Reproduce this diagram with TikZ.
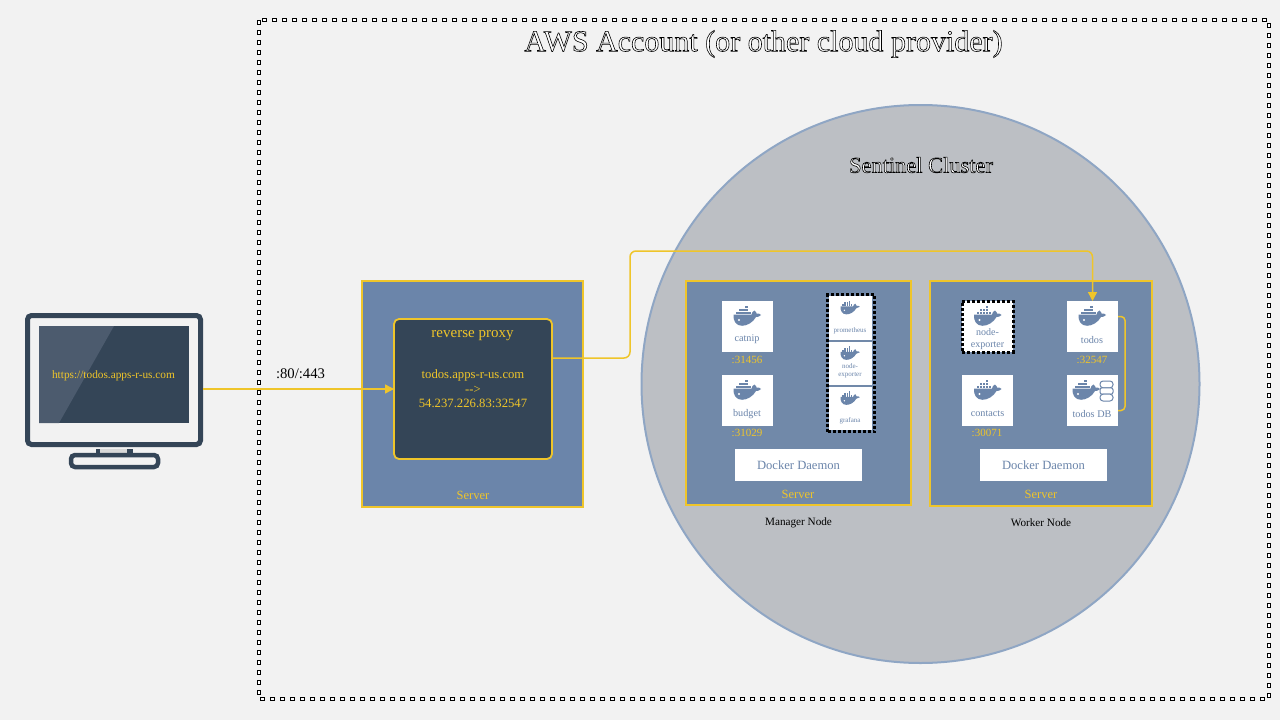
\documentclass[tikz,border=0pt]{standalone}
\usepackage{fontspec}
\setmainfont{Liberation Serif}
\usepackage{xcolor}
\usetikzlibrary{positioning,arrows.meta}

\definecolor{pagebg}{HTML}{F2F2F2}
\definecolor{clusterfill}{HTML}{BCBFC4}
\definecolor{clusterline}{HTML}{8FA6C4}
\definecolor{serverblue}{HTML}{6B85AA}
\definecolor{nodeblue}{HTML}{7189A9}
\definecolor{slate}{HTML}{344557}
\definecolor{glare}{HTML}{4C5B6E}
\definecolor{gold}{HTML}{EFC52A}

\newcommand{\outlined}[1]{\special{pdf:code q 2 Tr 0.6 w 0 0 0 RG 1 1 1 rg}#1\special{pdf:code Q}}

\tikzset{
    whale/.pic={
        \fill[serverblue] (-13.5,-1.5) -- (4.5,-1.5) .. controls (4.5,-3) and (6,-5) .. (7.5,-5.5)
            .. controls (9,-4.5) and (9.5,-3.2) .. (9.5,-2.5) .. controls (11,-2.8) and (13,-2.5) .. (14,-1)
            .. controls (12.5,0.8) and (10.5,1) .. (9,1) .. controls (6,6.5) and (0,9.8) .. (-5,9.8)
            .. controls (-11,9.8) and (-14,5) .. (-13.5,-1.5) -- cycle;
        \fill[white] (-8,4) circle (1.1);
        \foreach \cx/\cy in {-11/-4.4,-8/-4.4,-5/-4.4,-2/-4.4,1/-4.4,-8/-7.2,-5/-7.2,-2/-7.2,-2/-10}
            \fill[serverblue] (\cx,\cy) rectangle ++(2.5,2.4);
    },
    dbstack/.pic={
        \draw[serverblue, fill=white, line width=1pt, rounded corners=3pt] (-6.5,-10) rectangle (6.5,-3.2);
        \draw[serverblue, fill=white, line width=1pt, rounded corners=2pt] (-6.5,-3.2) rectangle (6.5,3.2);
        \draw[serverblue, fill=white, line width=1pt, rounded corners=3pt] (-6.5,3.2) rectangle (6.5,10);
    }
}

\begin{document}
\begin{tikzpicture}[
    x=1pt, y=-1pt,
    serverbox/.style={draw=gold, fill=serverblue, line width=1.5pt, rectangle, inner sep=0pt, outer sep=0pt},
    dockerbox/.style={fill=white, rectangle, minimum width=51pt, minimum height=51pt, inner sep=0pt, outer sep=0pt},
    smallbox/.style={fill=white, rectangle, minimum width=43pt, minimum height=43pt, inner sep=0pt, outer sep=0pt},
    daemon/.style={fill=white, rectangle, minimum width=127pt, minimum height=32pt, inner sep=0pt, outer sep=0pt,
                   text=serverblue, font=\fontsize{12.6}{14}\selectfont},
    boxlabel/.style={text=serverblue, font=\fontsize{10.2}{11.5}\selectfont, align=center, inner sep=0pt},
    tinylabel/.style={text=serverblue, font=\fontsize{7}{8.4}\selectfont, align=center, inner sep=0pt},
    portlabel/.style={text=gold, font=\fontsize{11}{12}\selectfont, inner sep=0pt},
    serverlabel/.style={text=gold, font=\fontsize{12.5}{14}\selectfont, inner sep=0pt},
    nodelabel/.style={text=black, font=\fontsize{11.2}{13}\selectfont, inner sep=0pt},
    dotframe/.style={draw=black, line width=3pt, dash pattern=on 3pt off 2pt, rectangle, inner sep=0pt, outer sep=0pt},
    link/.style={draw=gold, line width=1.5pt}
]
    \useasboundingbox (0,0) rectangle (1280,720);
    \fill[pagebg] (0,0) rectangle (1280,720);

    % Account frame
    \draw[black, line width=4.5pt, dash pattern=on 5pt off 5pt] (259,20) rectangle (1269,699);
    \draw[white, line width=1.6pt, dash pattern=on 2.4pt off 7.6pt, dash phase=-1.3pt] (259,20) rectangle (1269,699);
    \node[font=\fontsize{30}{34}\selectfont, inner sep=0pt] (account) at (763.5,44) {\outlined{AWS Account (or other cloud provider)}};

    % Cluster
    \node[circle, draw=clusterline, fill=clusterfill, line width=2pt, minimum size=558pt, inner sep=0pt, outer sep=0pt] (cluster) at (920.5,384) {};
    \node[font=\fontsize{22.4}{26}\selectfont, inner sep=0pt] (clustertitle) at (921,165) {\outlined{Sentinel Cluster}};

    % Browser
    \node[rectangle, draw=slate, fill=pagebg, line width=5pt, rounded corners=4pt, minimum width=173pt, minimum height=129pt, inner sep=0pt, outer sep=2.5pt] (monitor) at (114,380) {};
    \node[rectangle, fill=slate, minimum width=150pt, minimum height=97pt, inner sep=0pt] (screen) at (114,374.5) {};
    \fill[glare] (39,326) -- (114,326) -- (59,423) -- (39,423) -- cycle;
    \node[text=gold, font=\fontsize{11.3}{13}\selectfont, inner sep=0pt] (url) at (113.5,375.5) {https://todos.apps-r-us.com};
    \fill[slate] (96,449) rectangle (133,454);
    \fill[black!15] (100,449) rectangle (127,453);
    \draw[slate, fill=pagebg, line width=4.5pt, rounded corners=4pt] (71,455) rectangle (158,467);

    % Reverse proxy server
    \node[serverbox, minimum width=221pt, minimum height=226pt] (edge) at (472.5,394) {};
    \node[rectangle, draw=gold, fill=slate, line width=1.8pt, rounded corners=5pt, minimum width=158pt, minimum height=140pt, inner sep=0pt, outer sep=0pt] (proxy) at (473,389) {};
    \node[text=gold, font=\fontsize{15}{17}\selectfont, inner sep=0pt] (proxytitle) at (472.5,335.5) {reverse proxy};
    \node[text=gold, font=\fontsize{12.7}{14.4}\selectfont, align=center, inner sep=0pt] (proxyrule) at (473,389) {todos.apps-r-us.com\\-{}->\\54.237.226.83:32547};
    \node[serverlabel] (edgelabel) at (473,495) {Server};

    % Manager
    \node[serverbox, fill=nodeblue, minimum width=225pt, minimum height=224pt] (manager) at (798.5,393) {};
    \node[dockerbox] (catnip) at (747.5,326.5) {};
    \pic at (747,316) {whale};
    \node[boxlabel] (catniplabel) at (747,339) {catnip};
    \node[portlabel] (catnipport) at (747,360) {:31456};
    \node[dockerbox] (budget) at (747.5,400.5) {};
    \pic at (747,390) {whale};
    \node[boxlabel] (budgetlabel) at (747,414) {budget};
    \node[portlabel] (budgetport) at (747,433) {:31029};
    \node[dotframe, minimum width=47pt, minimum height=137pt] (monitoring) at (851,363) {};
    \node[smallbox, minimum height=44pt] (prometheus) at (850.5,318) {};
    \pic[scale=0.7] at (850,307.5) {whale};
    \node[tinylabel] (prometheuslabel) at (850,331) {prometheus};
    \node[smallbox] (mexporter) at (850.5,363.5) {};
    \pic[scale=0.7] at (850,353) {whale};
    \node[tinylabel] (mexporterlabel) at (850,371) {node-\\exporter};
    \node[smallbox] (grafana) at (850.5,408.5) {};
    \pic[scale=0.7] at (850,398) {whale};
    \node[tinylabel] (grafanalabel) at (850,421) {grafana};
    \node[daemon] (mdaemon) at (798.5,465) {Docker Daemon};
    \node[serverlabel] (mserver) at (798,494) {Server};
    \node[nodelabel] (mlabel) at (798.5,523) {Manager Node};

    % Worker
    \node[serverbox, fill=nodeblue, minimum width=222pt, minimum height=225pt] (worker) at (1041,393.5) {};
    \node[dockerbox] (wexporter) at (987.5,326.5) {};
    \node[dotframe, minimum width=51pt, minimum height=51pt] (wframe) at (987.5,326.5) {};
    \pic at (987.5,316) {whale};
    \node[boxlabel, font=\fontsize{10}{11.5}\selectfont] (wexporterlabel) at (987.5,339) {node-\\exporter};
    \node[dockerbox] (todos) at (1092.5,326.5) {};
    \pic at (1092,316) {whale};
    \node[boxlabel] (todoslabel) at (1092,340) {todos};
    \node[portlabel] (todosport) at (1092,360) {:32547};
    \node[dockerbox] (contacts) at (987.5,400.5) {};
    \pic at (987.5,390) {whale};
    \node[boxlabel] (contactslabel) at (987.5,414) {contacts};
    \node[portlabel] (contactsport) at (987,433) {:30071};
    \node[dockerbox] (tododb) at (1092.5,400.5) {};
    \pic at (1086,390) {whale};
    \pic at (1106.5,391) {dbstack};
    \node[boxlabel] (tododblabel) at (1092,414) {todos DB};
    \node[daemon] (wdaemon) at (1043.5,465) {Docker Daemon};
    \node[serverlabel] (wserver) at (1041,494) {Server};
    \node[nodelabel] (wlabel) at (1041,523) {Worker Node};

    % Connectors
    \coordinate (bend) at (630,251);
    \draw[link, -{Triangle[length=9pt,width=9pt]}] ([yshift=-9pt]monitor.east) -- (proxy.west);
    \node[font=\fontsize{14.7}{17}\selectfont, inner sep=0pt] (ports) at (300.5,374) {:80/:443};
    \draw[link, rounded corners=6pt, -{Triangle[length=9pt,width=9pt]}] ([yshift=31pt]proxy.east) -| (bend) -| (todos.north);
    \draw[link, rounded corners=4pt] ([yshift=10pt]todos.east) -- ++(7,0) |- ([yshift=-10pt]tododb.east);
\end{tikzpicture}
\end{document}
